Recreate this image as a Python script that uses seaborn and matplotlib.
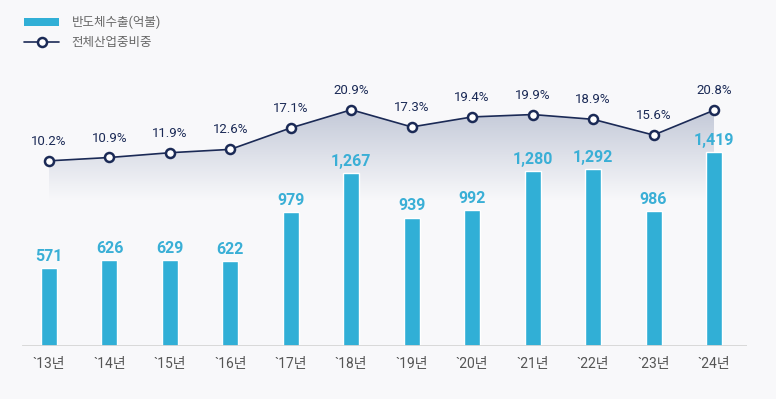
import numpy as np
import matplotlib.pyplot as plt
import seaborn as sns
from matplotlib.colors import LinearSegmentedColormap
from matplotlib.patches import Polygon, Patch
from matplotlib.lines import Line2D

# =========================================================
# DATA
# =========================================================
years   = ["`13년", "`14년", "`15년", "`16년", "`17년", "`18년",
           "`19년", "`20년", "`21년", "`22년", "`23년", "`24년"]
exports = [571, 626, 629, 622, 979, 1267, 939, 992, 1280, 1292, 986, 1419]
share   = [10.2, 10.9, 11.9, 12.6, 17.1, 20.9, 17.3, 19.4, 19.9, 18.9, 15.6, 20.8]
legend_labels = ["반도체수출(억불)", "전체산업중비중"]

BG   = "#f8f8fa"
BAR  = "#31afd6"
NAVY = "#1b2a56"

sns.set_theme(style="white")
plt.rcParams["font.family"] = ["Roboto", "Noto Sans CJK KR", "DejaVu Sans"]

fig = plt.figure(figsize=(7.76, 3.99), dpi=100, facecolor=BG)
ax = fig.add_axes([22 / 776, 53 / 399, 725 / 776, 346 / 399])
ax.set_facecolor(BG)

# bars
sns.barplot(x=years, y=exports, color=BAR, width=0.265, saturation=1, ax=ax, zorder=2)
for i, v in enumerate(exports):
    ax.annotate(f"{v:,}", (i, v), xytext=(0, 3), textcoords="offset points",
                ha="center", va="bottom", color="#3aafd6", fontsize=11.5, fontweight="bold")

ax.axhline(0, color="#d6d6d6", lw=2, zorder=3)

# share line on twin axis
ax2 = ax.twinx()
sns.lineplot(x=np.arange(len(share)), y=share, ax=ax2, color=NAVY, lw=1.2,
             marker="o", markersize=6.5, markerfacecolor="white",
             markeredgecolor=NAVY, markeredgewidth=1.8, zorder=5)
for i, p in enumerate(share):
    ax2.annotate(f"{p}%", (i, p), xytext=(0, 14), textcoords="offset points",
                 ha="center", va="center", color=NAVY, fontsize=9.5)

# gradient under the line (drawn on ax so it sits behind the bars)
low = 2
grad = LinearSegmentedColormap.from_list("grad", [BG, "#c3c9d8"])
img = ax.imshow(np.linspace(0, 1, 256).reshape(-1, 1), cmap=grad, aspect="auto",
                origin="lower", extent=[0, len(share) - 1, low, max(share)],
                transform=ax2.transData, zorder=0.5)
verts = [(i, p) for i, p in enumerate(share)] + [(len(share) - 1, low), (0, low)]
clip = Polygon(verts, closed=True, transform=ax2.transData)
img.set_clip_path(clip)

# limits
ax.set_xlim(-0.447, 11.546)
ax.set_ylim(0, 346 / (194 / 1419))
ax2.set_ylim(-28.6, 43.9)

ax.set_xticks(range(len(years)))
ax.set_xticklabels(years)
ax.tick_params(axis="x", length=0, pad=8, labelsize=10, labelcolor="#555555")
ax.set_yticks([])
ax2.set_yticks([])
ax.set_xlabel("")
ax.set_ylabel("")
for a in (ax, ax2):
    for sp in a.spines.values():
        sp.set_visible(False)

# legend
handles = [
    Patch(facecolor=BAR, edgecolor="none"),
    Line2D([], [], color=NAVY, lw=1.2, marker="o", markersize=6.5,
           markerfacecolor="white", markeredgecolor=NAVY, markeredgewidth=1.8),
]
fig.legend(handles, legend_labels, loc="upper left", bbox_to_anchor=(24 / 776, 1 - 16 / 399),
           frameon=False, borderpad=0, borderaxespad=0, fontsize=9,
           handlelength=2.8, handletextpad=1.0, labelspacing=0.55, labelcolor="#666666")

plt.savefig("out.png", dpi=100, facecolor=BG)
